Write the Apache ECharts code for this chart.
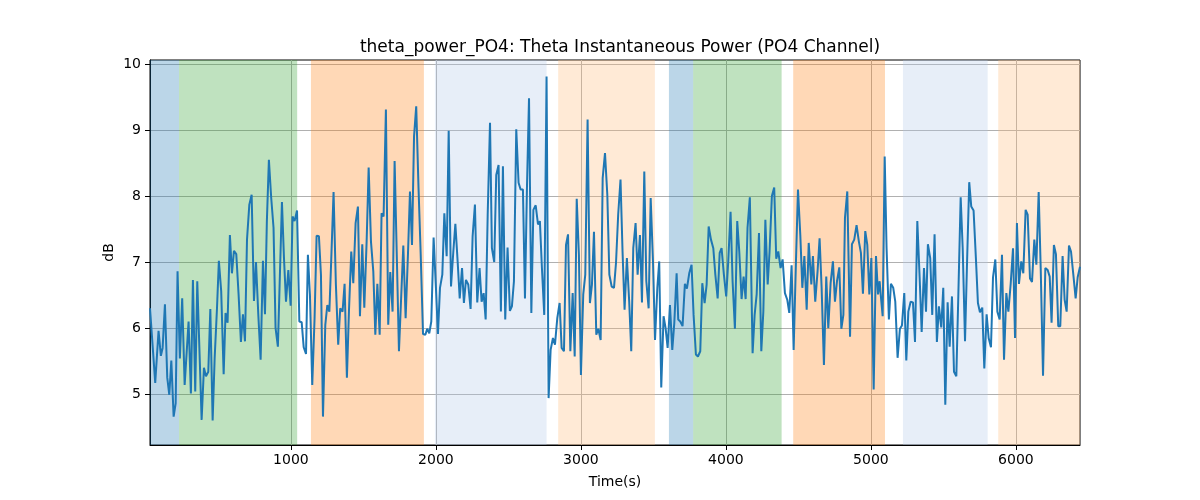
<!DOCTYPE html>
<html>
<head>
<meta charset="utf-8">
<script src="https://cdn.jsdelivr.net/npm/echarts@6/dist/echarts.min.js"></script>
<style>
  html, body { margin: 0; padding: 0; background: #fff; }
  #chart { width: 1200px; height: 500px; }
</style>
</head>
<body>
<div id="chart"></div>
<script>
// time stamps (s) and theta power (dB)
var timeSec = [
  28, 64, 87, 103, 115, 131, 147, 161, 175, 191, 205, 218, 234, 250, 267, 280, 294, 310, 324, 340,
  354, 370, 384, 400, 414, 430, 444, 460, 474, 490, 503, 519, 536, 549, 563, 579, 593, 607, 623, 639,
  655, 669, 683, 697, 713, 729, 745, 759, 775, 791, 807, 821, 834, 848, 864, 880, 894, 910,
  938, 952, 966, 982, 998, 1011, 1025, 1042, 1058, 1074, 1088, 1104, 1117, 1131, 1147, 1163, 1177, 1193, 1207, 1221,
  1237, 1251, 1265, 1278, 1294, 1310, 1326, 1340, 1356, 1370, 1386, 1400, 1416, 1430, 1446, 1462, 1476, 1492, 1506, 1522,
  1536, 1552, 1568, 1582, 1596, 1612, 1625, 1639, 1655, 1671, 1685, 1701, 1715, 1731, 1745, 1761, 1775, 1791, 1807, 1821,
  1835, 1849, 1864, 1880, 1895, 1911, 1927, 1940, 1954, 1968, 1984, 2000, 2014, 2028, 2044, 2058, 2074, 2088, 2104, 2120,
  2134, 2150, 2164, 2180, 2193, 2207, 2223, 2239, 2253, 2269, 2285, 2301, 2315, 2329, 2343, 2357, 2373, 2386, 2402, 2416,
  2432, 2448, 2462, 2478, 2494, 2510, 2524, 2538, 2554, 2570, 2584, 2600, 2614, 2628, 2642, 2658, 2672, 2688, 2704, 2717,
  2731, 2747, 2763, 2777, 2791, 2807, 2821, 2837, 2853, 2867, 2883, 2897, 2911, 2927, 2943, 2957, 2971, 2986, 3000, 3016,
  3030, 3046, 3062, 3076, 3090, 3106, 3120, 3136, 3150, 3166, 3182, 3196, 3212, 3228, 3242, 3257, 3273, 3287, 3301, 3317,
  3333, 3347, 3361, 3377, 3391, 3407, 3421, 3437, 3451, 3467, 3481, 3497, 3511, 3527, 3540, 3554, 3570, 3584, 3598, 3614,
  3630, 3644, 3660, 3671, 3685, 3701, 3717, 3731, 3747, 3763, 3777, 3793, 3807, 3823, 3837, 3853, 3867, 3881, 3897, 3913,
  3927, 3943, 3957, 3970, 3986, 4002, 4016, 4032, 4046, 4062, 4078, 4092, 4108, 4122, 4136, 4149, 4165, 4184, 4198, 4212,
  4228, 4244, 4258, 4272, 4288, 4301, 4317, 4333, 4347, 4361, 4377, 4391, 4407, 4423, 4437, 4453, 4467, 4483, 4497, 4513,
  4527, 4541, 4557, 4571, 4589, 4600, 4616, 4632, 4646, 4660, 4676, 4692, 4706, 4722, 4738, 4752, 4766, 4782, 4796, 4810,
  4821, 4837, 4856, 4869, 4885, 4901, 4917, 4931, 4945, 4961, 4975, 4989, 5003, 5019, 5035, 5049, 5060, 5067, 5081, 5095,
  5108, 5124, 5138, 5154, 5168, 5184, 5200, 5214, 5230, 5244, 5258, 5274, 5290, 5304, 5320, 5336, 5350, 5366, 5380, 5393,
  5409, 5423, 5439, 5455, 5469, 5485, 5499, 5513, 5529, 5543, 5559, 5573, 5589, 5603, 5619, 5633, 5649, 5662, 5678, 5692,
  5708, 5724, 5738, 5752, 5768, 5782, 5798, 5812, 5828, 5842, 5858, 5872, 5888, 5904, 5918, 5934, 5948, 5964, 5980, 5994,
  6007, 6021, 6037, 6051, 6067, 6081, 6097, 6111, 6127, 6141, 6157, 6171, 6187, 6203, 6219, 6233, 6246, 6262, 6276, 6292,
  6306, 6322, 6336, 6350, 6366, 6380, 6396, 6412, 6426, 6442
];
var thetaDb = [
  6.30, 5.17, 5.96, 5.58, 5.70, 6.36, 5.25, 4.99, 5.51, 4.66, 4.86, 6.86, 5.54, 6.45, 5.14, 5.17, 6.10, 5.01, 6.73, 5.04,
  6.71, 5.60, 4.61, 5.40, 5.27, 5.34, 6.29, 4.60, 5.55, 6.30, 7.02, 6.56, 5.30, 6.23, 6.08, 7.41, 6.83, 7.17, 7.12, 6.51,
  5.79, 6.21, 5.80, 7.34, 7.87, 8.02, 6.41, 7.00, 6.20, 5.52, 7.02, 6.21, 7.62, 8.55, 7.97, 7.52, 6.00, 5.72,
  7.91, 7.06, 6.40, 6.88, 6.34, 7.69, 7.62, 7.78, 6.10, 6.09, 5.71, 5.61, 7.11, 6.51, 5.14, 6.15, 7.40, 7.39, 6.81, 4.66,
  6.05, 6.35, 6.25, 7.04, 8.06, 6.66, 5.75, 6.30, 6.25, 6.67, 5.25, 6.25, 7.16, 6.68, 7.59, 7.84, 6.18, 7.27, 6.31, 7.31,
  8.43, 7.31, 6.86, 5.90, 6.67, 5.90, 7.74, 7.69, 9.31, 6.05, 6.85, 6.25, 8.53, 7.01, 5.65, 6.51, 7.25, 6.15, 7.11, 8.07,
  7.26, 8.90, 9.36, 8.12, 7.11, 5.91, 5.90, 5.99, 5.92, 6.10, 7.37, 6.61, 5.91, 6.61, 6.81, 7.74, 7.09, 8.99, 6.63, 7.16,
  7.58, 7.00, 6.45, 6.91, 6.38, 6.73, 6.66, 6.29, 7.39, 7.87, 6.39, 6.91, 6.40, 6.53, 6.13, 7.72, 9.11, 7.21, 7.00, 8.32,
  8.47, 6.25, 8.45, 6.13, 7.22, 6.26, 6.33, 6.71, 9.01, 8.20, 8.10, 8.10, 6.45, 8.15, 9.48, 6.23, 7.79, 7.86, 7.57, 7.62,
  6.91, 6.20, 9.81, 4.94, 5.67, 5.85, 5.75, 6.15, 6.38, 5.70, 5.65, 7.26, 7.42, 5.65, 6.53, 5.57, 7.96, 7.11, 5.29, 6.51,
  6.81, 9.16, 6.38, 6.66, 7.46, 5.90, 5.99, 5.82, 8.27, 8.65, 8.02, 6.81, 6.63, 6.61, 6.99, 7.72, 8.25, 7.16, 6.28, 7.06,
  6.40, 5.65, 7.21, 7.59, 6.81, 7.41, 6.39, 8.37, 6.71, 6.30, 7.97, 7.01, 5.82, 6.61, 7.01, 5.10, 6.18, 6.00, 5.70, 6.35,
  5.67, 6.08, 6.83, 6.13, 6.10, 6.03, 6.67, 6.60, 6.83, 6.96, 6.20, 5.60, 5.57, 5.65, 6.68, 6.38, 6.66, 7.54, 7.34, 7.21,
  6.81, 6.45, 7.14, 7.21, 6.81, 6.48, 7.01, 7.76, 6.71, 5.99, 7.62, 7.16, 6.44, 6.78, 6.44, 7.52, 7.98, 5.62, 6.20, 6.51,
  7.44, 5.65, 6.25, 7.64, 6.66, 7.16, 8.00, 8.13, 7.05, 7.16, 6.91, 7.04, 6.53, 6.43, 6.23, 6.95, 5.67, 7.01, 8.10, 7.41,
  6.61, 7.09, 6.28, 7.29, 6.66, 7.09, 6.40, 6.86, 7.36, 6.61, 5.44, 6.78, 6.00, 6.68, 7.01, 6.40, 6.71, 6.92, 5.99, 6.20,
  7.67, 8.07, 5.87, 7.27, 7.34, 7.56, 7.31, 7.14, 6.52, 7.47, 7.26, 6.51, 7.06, 5.07, 7.09, 6.51, 6.71, 6.52, 6.18, 8.60,
  7.21, 6.13, 6.67, 6.61, 6.40, 5.55, 5.99, 6.04, 6.53, 5.51, 6.25, 6.40, 6.39, 5.79, 7.62, 6.77, 5.94, 6.91, 6.25, 7.27,
  7.06, 6.20, 7.42, 5.79, 6.33, 6.01, 6.61, 4.84, 6.39, 5.72, 6.48, 5.34, 5.27, 6.51, 7.98, 7.21, 5.80, 6.91, 8.21, 7.84,
  7.78, 7.06, 6.38, 6.24, 6.31, 5.39, 6.21, 5.85, 5.71, 6.77, 7.04, 6.25, 6.13, 7.11, 5.52, 6.53, 6.25, 6.67, 7.21, 5.85,
  7.59, 6.67, 7.01, 6.83, 7.79, 7.72, 6.75, 6.70, 7.34, 6.96, 8.06, 6.91, 5.28, 6.91, 6.88, 6.78, 6.08, 7.26, 7.12, 6.03,
  6.03, 7.09, 6.43, 6.25, 7.25, 7.16, 6.81, 6.45, 6.77, 6.93
];

// tick positions shown on the axes
var xTicks = [1000, 2000, 3000, 4000, 5000, 6000];
var yTicks = [5, 6, 7, 8, 9, 10];

// shaded state intervals (s)
var bandStart = [28, 228, 1138, 1993, 2843, 3607, 3774, 4464, 5221, 5878];
var bandEnd   = [228, 1043, 1917, 2763, 3510, 3774, 4384, 5097, 5805, 6442];
var bandKind  = ['a', 'b', 'c', 'd', 'e', 'a', 'b', 'c', 'd', 'e'];

var bandColors = {
  a: 'rgba(31,119,180,0.3)',
  b: 'rgba(44,160,44,0.3)',
  c: 'rgba(255,127,14,0.3)',
  d: 'rgba(174,199,232,0.3)',
  e: 'rgba(255,187,120,0.3)'
};

var chart = echarts.init(document.getElementById('chart'), null, { renderer: 'canvas' });

var lineData = [];
for (var i = 0; i < timeSec.length; i++) {
  lineData.push([timeSec[i], thetaDb[i]]);
}
var areas = [];
for (var j = 0; j < bandStart.length; j++) {
  areas.push([
    { xAxis: bandStart[j], itemStyle: { color: bandColors[bandKind[j]] } },
    { xAxis: bandEnd[j] }
  ]);
}

var font = 'DejaVu Sans';
var plain = function (v) { return String(v); };

chart.setOption({
  animation: false,
  backgroundColor: '#fff',
  title: {
    text: 'theta_power_PO4: Theta Instantaneous Power (PO4 Channel)',
    left: 615,
    top: 34,
    textAlign: 'center',
    textStyle: { fontFamily: font, fontSize: 17, fontWeight: 'normal', color: '#000' }
  },
  grid: {
    left: 150, right: 120, top: 60, bottom: 55,
    show: true, borderColor: '#000', borderWidth: 1,
    outerBoundsMode: 'none'
  },
  xAxis: {
    type: 'value',
    min: 28, max: 6442,
    name: 'Time(s)',
    nameLocation: 'middle',
    nameGap: 30,
    nameTextStyle: { fontFamily: font, fontSize: 14, color: '#000' },
    axisLine: { show: true, lineStyle: { color: '#000', width: 1 } },
    axisTick: { show: true, inside: false, length: 5, customValues: xTicks, lineStyle: { color: '#000' } },
    axisLabel: { fontFamily: font, fontSize: 14, color: '#000', margin: 8, customValues: xTicks, formatter: plain },
    splitLine: { show: true, lineStyle: { color: '#b0b0b0', width: 1 } }
  },
  yAxis: {
    type: 'value',
    min: 4.23, max: 10.06,
    name: 'dB',
    nameLocation: 'middle',
    nameGap: 34,
    nameMoveOverlap: false,
    nameTextStyle: { fontFamily: font, fontSize: 14, color: '#000' },
    axisLine: { show: true, lineStyle: { color: '#000', width: 1 } },
    axisTick: { show: true, inside: false, length: 5, customValues: yTicks, lineStyle: { color: '#000' } },
    axisLabel: { fontFamily: font, fontSize: 14, color: '#000', margin: 9, customValues: yTicks, formatter: plain },
    splitLine: { show: true, lineStyle: { color: '#b0b0b0', width: 1 } }
  },
  series: [
    {
      type: 'line',
      name: 'bands',
      data: [],
      z: 1,
      silent: true,
      markArea: { silent: true, data: areas }
    },
    {
      type: 'line',
      name: 'theta_power_PO4',
      data: lineData,
      z: 3,
      showSymbol: false,
      symbol: 'none',
      lineStyle: { color: '#1f77b4', width: 2 },
      itemStyle: { color: '#1f77b4' }
    }
  ]
});
</script>
</body>
</html>
